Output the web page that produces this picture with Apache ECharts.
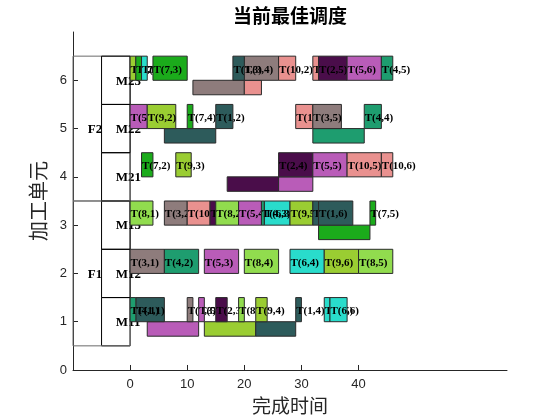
<!DOCTYPE html>
<html><head><meta charset="utf-8">
<script src="https://cdn.jsdelivr.net/npm/echarts@6/dist/echarts.min.js"></script>
<style>html,body{margin:0;padding:0;background:#fff}#c{width:560px;height:420px}</style>
</head><body><div id="c"></div>
<script>
// ---- data ----
const machines = ['M11', 'M12', 'M13', 'M21', 'M22', 'M23'];
const machineRows = [1, 2, 3, 4, 5, 6];
const factories = ['F1', 'F2'];
const factoryCenterRows = [2, 5];
const xTicks = [0, 10, 20, 30, 40];
const yTicks = [0, 1, 2, 3, 4, 5, 6];

// operations, listed in drawing order (later bars cover earlier labels)
const opJob   = [9,7,6,7,3,1,10,10,2,5,4,   5,9,7,1,10,3,4,   7,9,2,5,10,10,   8,3,10,2,8,5,6,4,9,1,1,7,   3,4,5,8,6,9,8,   1,4,3,5,2,8,9,1,6,6];
const opStep  = [1,1,1,3,4,3,2,4,5,6,5,     1,2,4,2,3,5,4,     2,3,4,5,5,6,       1,2,1,2,2,4,3,3,5,5,6,5,     1,2,3,4,4,6,5,   1,1,3,2,3,3,4,4,5,6];
const opRow   = [6,6,6,6,6,6,6,6,6,6,6,     5,5,5,5,5,5,5,     4,4,4,4,4,4,       3,3,3,3,3,3,3,3,3,3,3,3,     2,2,2,2,2,2,2,   1,1,1,1,1,1,1,1,1,1];
const opStart = [0,1,2,4,20,18,26,32,33,38,44, 0,3,10,15,29,32,41, 2,8,26,32,38,44,  0,6,10,14,15,19,23.5,23,28,32,33,42, 0,6,13,20,28,34,40, 1,0,10,12,15,19,22,29,34,35];
const opEnd   = [1,2,3,10,26,20,29,33,38,44,46, 3,8,11,18,32,37,44, 4,10.7,32,38,44,46, 4,10,14,15,19,23,28,23.5,32,33,39,43, 6,12,19,26,34,40,46, 6,1,11,13,17,20,24,30,35,38];

// transfers between factories (lower thin bars)
const moveJob   = [3, 10, 1, 4, 2, 5, 7, 5, 9, 1];
const moveRow   = [6, 6, 5, 5, 4, 4, 3, 1, 1, 1];
const moveStart = [11, 20, 6, 32, 17, 26, 33, 3, 13, 22];
const moveEnd   = [20, 23, 15, 41, 26, 32, 42, 12, 22, 29];

// ---- styles ----
const jobColors = ['#2d5b5b', '#4a0d4a', '#8e7c7c', '#1e9d6f', '#b95cb8',
                   '#29dccb', '#1bab1b', '#91dc4e', '#9acd32', '#e9918f'];
const axisColor = '#262626';
const serifBold = 'bold 11px "Liberation Serif", "Times New Roman", serif';

const opData = opJob.map((j, i) => [opStart[i], opEnd[i], opRow[i], j, opStep[i]]);
const moveData = moveJob.map((j, i) => [moveStart[i], moveEnd[i], moveRow[i], j]);
const boxData = machineRows.map((r, i) => [r, i]);

const chart = echarts.init(document.getElementById('c'), null, {renderer: 'canvas'});

function rectBetween(api, xa, ya, xb, yb) {
  const p0 = api.coord([xa, ya]);
  const p1 = api.coord([xb, yb]);
  return {x: Math.min(p0[0], p1[0]), y: Math.min(p0[1], p1[1]),
          width: Math.abs(p1[0] - p0[0]), height: Math.abs(p1[1] - p0[1])};
}

const option = {
  animation: false,
  grid: {left: 73, right: 53, top: 32, bottom: 48, containLabel: false},
  graphic: [{
    type: 'text', x: 290, y: 16, z: 10,
    style: {text: '当前最佳调度', align: 'center', verticalAlign: 'middle',
            font: 'bold 19px "Noto Sans CJK SC"', fill: '#000'}
  }],
  xAxis: {
    type: 'value', min: -10, max: 66, interval: 10,
    name: '完成时间', nameLocation: 'middle', nameGap: 26,
    nameTextStyle: {fontFamily: 'Noto Sans CJK SC', fontSize: 19, color: axisColor},
    axisLine: {onZero: false, lineStyle: {color: axisColor, width: 1}},
    axisTick: {inside: true, length: 5, customValues: xTicks, lineStyle: {color: axisColor}},
    axisLabel: {customValues: xTicks, margin: 8, fontFamily: 'Liberation Sans', fontSize: 13, color: axisColor},
    splitLine: {show: false}
  },
  yAxis: {
    type: 'value', min: 0, max: 7, interval: 1,
    name: '加工单元', nameLocation: 'middle', nameGap: 15, nameRotate: 90,
    nameTextStyle: {fontFamily: 'Noto Sans CJK SC', fontSize: 20, color: axisColor},
    axisLine: {show: true, onZero: false, lineStyle: {color: axisColor, width: 1}},
    axisTick: {show: true, inside: true, length: 5, customValues: yTicks, lineStyle: {color: axisColor}},
    axisLabel: {customValues: yTicks, margin: 6, fontFamily: 'Liberation Sans', fontSize: 13, color: axisColor},
    splitLine: {show: false}
  },
  series: [
    {
      // factory / machine frame
      type: 'custom', z: 2, silent: true,
      data: boxData,
      renderItem: function (params, api) {
        const row = api.value(0);
        const idx = api.value(1);
        const children = [];
        children.push({type: 'rect', shape: rectBetween(api, -5, row - 0.5, 0, row + 0.5),
          style: {fill: 'none', stroke: '#000', lineWidth: 1}});
        const lp = api.coord([-2.5, row - 0.02]);
        children.push({type: 'text', x: lp[0], y: lp[1],
          style: {text: machines[idx], font: 'bold 13px "Liberation Serif", serif', fill: '#000',
                  align: 'left', verticalAlign: 'middle'}});
        if (idx === 0 || idx === 3) {
          const f = idx === 0 ? 0 : 1;
          const c = factoryCenterRows[f];
          children.push({type: 'rect', shape: rectBetween(api, -10, c - 1.5, 0, c + 1.5),
            style: {fill: 'none', stroke: '#6a6a6a', lineWidth: 1}});
          const fp = api.coord([-7.4, c - 0.02]);
          children.push({type: 'text', x: fp[0], y: fp[1],
            style: {text: factories[f], font: 'bold 13px "Liberation Serif", serif', fill: '#000',
                    align: 'left', verticalAlign: 'middle'}});
        }
        return {type: 'group', children: children};
      }
    },
    {
      // transfer bars
      type: 'custom', z: 3, silent: true,
      data: moveData,
      encode: {x: [0, 1], y: 2},
      renderItem: function (params, api) {
        const row = api.value(2), job = api.value(3);
        return {type: 'rect', shape: rectBetween(api, api.value(0), row - 0.3, api.value(1), row),
          style: {fill: jobColors[job - 1], stroke: '#2b2b2b', lineWidth: 1}};
      }
    },
    {
      // operations with labels
      type: 'custom', z: 4, silent: true,
      data: opData,
      encode: {x: [0, 1], y: 2},
      renderItem: function (params, api) {
        const x0 = api.value(0), x1 = api.value(1), row = api.value(2);
        const job = api.value(3), step = api.value(4);
        const tp = api.coord([x0, row + 0.22]);
        return {type: 'group', children: [
          {type: 'rect', shape: rectBetween(api, x0, row, x1, row + 0.5),
           style: {fill: jobColors[job - 1], stroke: '#2b2b2b', lineWidth: 1}},
          {type: 'text', x: tp[0] + 0.5, y: tp[1],
           style: {text: 'T(' + job + ',' + step + ')', font: serifBold, fill: '#000',
                   align: 'left', verticalAlign: 'middle'}}
        ]};
      }
    }
  ]
};
chart.setOption(option);
</script>
</body></html>
